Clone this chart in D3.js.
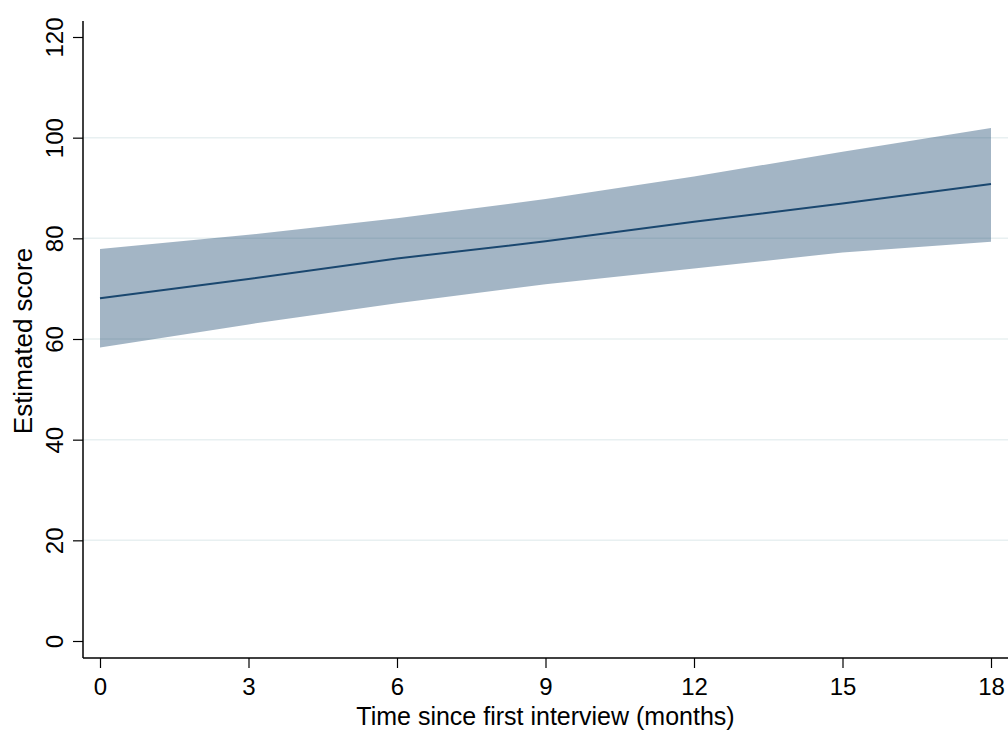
<!DOCTYPE html>
<html>
<head>
<meta charset="utf-8">
<script src="https://cdn.jsdelivr.net/npm/d3@7"></script>
<style>
  body { margin: 0; background: #fff; }
  svg { display: block; font-family: "Liberation Sans", Arial, Helvetica, sans-serif; }
</style>
</head>
<body>
<div id="chart"></div>
<script>
// Data
const months = [0, 3, 6, 9, 12, 15, 18];
const estimate = [68.1, 71.9, 76.0, 79.4, 83.3, 86.9, 90.8];
const upper = [77.9, 80.7, 84.0, 87.8, 92.3, 97.2, 101.9];
const lower = [58.3, 62.9, 67.1, 70.9, 74.0, 77.2, 79.3];
const xTicks = [0, 3, 6, 9, 12, 15, 18];
const yTicks = [0, 20, 40, 60, 80, 100, 120];
const gridValues = [20, 40, 60, 80, 100];

const width = 1008;
const height = 731;

const svg = d3.select("#chart")
    .append("svg")
    .attr("width", width)
    .attr("height", height);

// Scales
const x = d3.scaleLinear().domain([0, 18]).range([100, 991]);
const y = d3.scaleLinear().domain([0, 120]).range([641, 37]);

const axisX = 83;   // y axis line position
const axisY = 658;  // x axis line position

// Gridlines
svg.append("g")
    .selectAll("line")
    .data(gridValues)
    .enter()
    .append("line")
    .attr("x1", axisX)
    .attr("x2", width)
    .attr("y1", d => y(d))
    .attr("y2", d => y(d))
    .attr("stroke", "#e8f0f1")
    .attr("stroke-width", 1.5);

const data = months.map((m, i) => ({ m: m, est: estimate[i], lo: lower[i], hi: upper[i] }));

// Confidence band
const area = d3.area()
    .x(d => x(d.m))
    .y0(d => y(d.lo))
    .y1(d => y(d.hi));

svg.append("path")
    .datum(data)
    .attr("d", area)
    .attr("fill", "#1a476f")
    .attr("fill-opacity", 0.4);

// Estimate line
const line = d3.line()
    .x(d => x(d.m))
    .y(d => y(d.est));

svg.append("path")
    .datum(data)
    .attr("d", line)
    .attr("fill", "none")
    .attr("stroke", "#1a476f")
    .attr("stroke-width", 2);

// Y axis
const gy = svg.append("g")
    .attr("transform", `translate(${axisX},0)`)
    .call(d3.axisLeft(y).tickValues(yTicks).tickSize(10).tickSizeOuter(0).tickFormat(d3.format("d")));
gy.select(".domain").remove();
gy.selectAll(".tick line").attr("stroke", "#000").attr("stroke-width", 1.2);
gy.selectAll(".tick text")
    .attr("x", 0)
    .attr("y", 0)
    .attr("dy", null)
    .attr("text-anchor", "middle")
    .attr("transform", "translate(-20,0) rotate(-90)")
    .style("font-size", "24px")
    .attr("fill", "#000");

svg.append("line")
    .attr("x1", axisX).attr("x2", axisX)
    .attr("y1", 21).attr("y2", axisY)
    .attr("stroke", "#000")
    .attr("stroke-width", 1.5);

// X axis
const gx = svg.append("g")
    .attr("transform", `translate(0,${axisY})`)
    .call(d3.axisBottom(x).tickValues(xTicks).tickSize(10).tickSizeOuter(0));
gx.select(".domain").remove();
gx.selectAll(".tick line").attr("stroke", "#000").attr("stroke-width", 1.2);
gx.selectAll(".tick text")
    .attr("y", 37)
    .attr("dy", null)
    .style("font-size", "24px")
    .attr("fill", "#000");

svg.append("line")
    .attr("x1", axisX).attr("x2", width)
    .attr("y1", axisY).attr("y2", axisY)
    .attr("stroke", "#000")
    .attr("stroke-width", 1.5);

// Axis titles
svg.append("text")
    .attr("x", (x(0) + x(18)) / 2)
    .attr("y", 725)
    .attr("text-anchor", "middle")
    .style("font-size", "25px")
    .text("Time since first interview (months)");

svg.append("text")
    .attr("transform", `translate(32,${(y(0) + y(120)) / 2 + 2}) rotate(-90)`)
    .attr("text-anchor", "middle")
    .style("font-size", "26px")
    .text("Estimated score");
</script>
</body>
</html>
